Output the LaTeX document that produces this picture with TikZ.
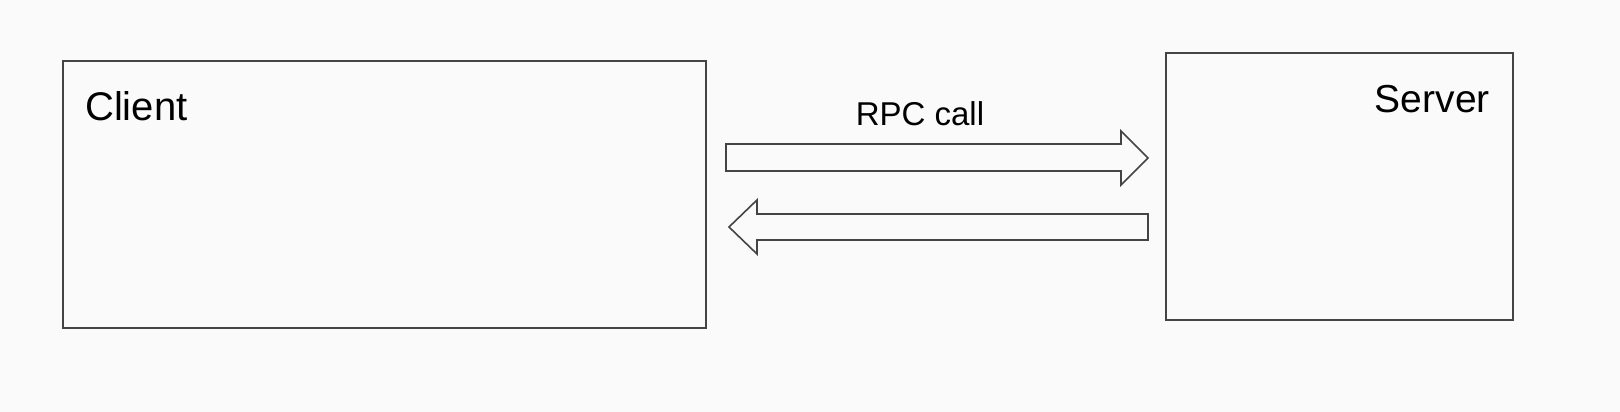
\documentclass[tikz,border=0pt]{standalone}
\usepackage{fontspec}
\setmainfont{Liberation Sans}
\usetikzlibrary{positioning}
\definecolor{bgpaper}{HTML}{FAFAFA}
\definecolor{edgegray}{HTML}{444444}

\begin{document}
\begin{tikzpicture}[
    x=1pt, y=-1pt,
    box/.style={draw=edgegray, line width=1.8pt, rectangle, inner sep=0pt},
    label/.style={inner sep=0pt, font=\fontsize{40}{48}\selectfont},
    blockarrow/.style={draw=edgegray, line width=1.6pt, line join=miter, fill=bgpaper}
]
\fill[bgpaper] (0,0) rectangle (1620,412);
\useasboundingbox (0,0) rectangle (1620,412);
\node[box, minimum width=643pt, minimum height=267pt, anchor=north west] (client) at (62,60) {};
\node[box, minimum width=347pt, minimum height=267pt, anchor=north west] (server) at (1165,52) {};
\node[label, anchor=base west] (clientlabel) at (85,120) {Client};
\node[label, anchor=base east, font=\fontsize{39}{47}\selectfont] (serverlabel) at (1490,112) {Server};
\node[label, anchor=base, font=\fontsize{33}{40}\selectfont] (rpclabel) at (920,125) {RPC call};
% request arrow
\draw[blockarrow] (726,144) -- (1121,144) -- (1121,131) -- (1148,158) -- (1121,185)
    -- (1121,171) -- (726,171) -- cycle;
% reply arrow
\draw[blockarrow] (1148,214) -- (757,214) -- (757,200) -- (729,227) -- (757,254)
    -- (757,240) -- (1148,240) -- cycle;
\end{tikzpicture}
\end{document}
